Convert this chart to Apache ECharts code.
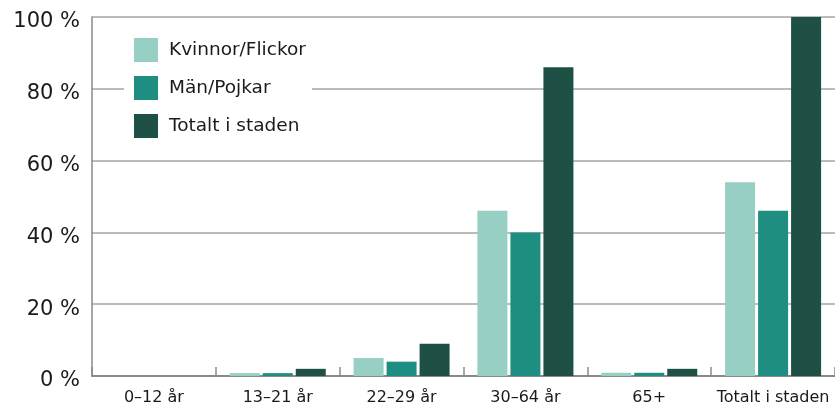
<!DOCTYPE html>
<html><head><meta charset="utf-8">
<script src="https://cdn.jsdelivr.net/npm/echarts@6/dist/echarts.min.js"></script>
<style>html,body{margin:0;padding:0;background:#fff}#c{width:835px;height:407px}</style>
</head><body><div id="c"></div>
<script>
const categories = ['0–12 år', '13–21 år', '22–29 år', '30–64 år', '65+', 'Totalt i staden'];
const kvinnor = [0, 0.8, 5, 46, 0.9, 54];
const man = [0, 0.8, 4, 40, 0.9, 46];
const totalt = [0, 2, 9, 86, 2, 100];
const yTicks = [0, 20, 40, 60, 80, 100];

const FONT = '"DejaVu Sans", sans-serif';
const chart = echarts.init(document.getElementById('c'));
chart.setOption({
  animation: false,
  textStyle: { fontFamily: FONT },
  grid: { left: 92, top: 17, right: -3, bottom: 31, containLabel: false },
  legend: {
    orient: 'vertical', left: 124, top: 28,
    backgroundColor: '#fff', padding: [10, 6, 10, 10],
    itemWidth: 24, itemHeight: 24, itemGap: 14,
    icon: 'rect',
    textStyle: { fontSize: 18.5, color: '#1a1a1a', fontFamily: FONT, padding: [0, 0, 0, 6] },
    data: ['Kvinnor/Flickor', 'Män/Pojkar', 'Totalt i staden']
  },
  xAxis: {
    type: 'category', data: categories, boundaryGap: true,
    axisLine: { lineStyle: { color: '#8a8a85', width: 2 } },
    axisTick: { show: true, inside: true, length: 9, interval: 0, alignWithLabel: false, lineStyle: { color: '#8a8a85', width: 1.5 } },
    axisLabel: { color: '#1a1a1a', fontSize: 16, margin: 14, interval: 0, fontFamily: FONT }
  },
  yAxis: {
    type: 'value', min: yTicks[0], max: yTicks[yTicks.length - 1], interval: 20,
    axisLine: { show: true, lineStyle: { color: '#8a8a85', width: 1.5 } },
    axisTick: { show: false },
    axisLabel: {
      formatter: function (v) { return '{a|' + v + ' %}'; },
      margin: 12,
      rich: { a: { color: '#1a1a1a', fontSize: 21, fontFamily: FONT, padding: [10, 0, 0, 0] } }
    },
    splitLine: { lineStyle: { color: '#a5a5a0', width: 1.5 } }
  },
  series: [
    { name: 'Kvinnor/Flickor', type: 'bar', data: kvinnor, barWidth: 30, barGap: '10%', itemStyle: { color: '#97cfc5' } },
    { name: 'Män/Pojkar', type: 'bar', data: man, barWidth: 30, barGap: '10%', itemStyle: { color: '#1f8e82' } },
    { name: 'Totalt i staden', type: 'bar', data: totalt, barWidth: 30, barGap: '10%', itemStyle: { color: '#1e5045' } }
  ]
});
</script></body></html>
